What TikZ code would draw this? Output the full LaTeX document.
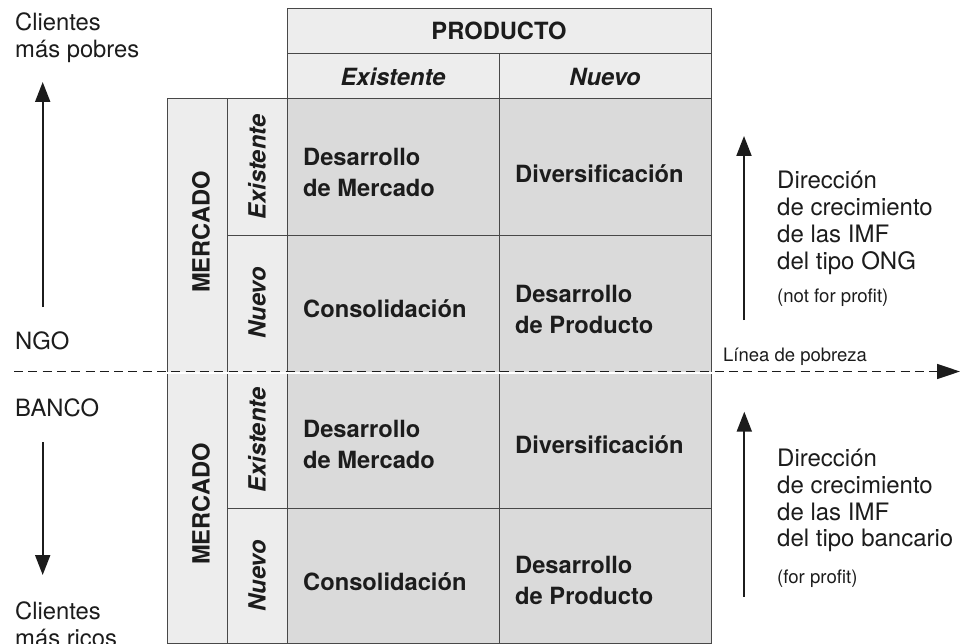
\documentclass[tikz,border=0pt]{standalone}
\usepackage{fontspec}
\setmainfont{TeX Gyre Heros}
\usetikzlibrary{arrows.meta}
\definecolor{gridc}{RGB}{72,72,72}
\definecolor{hdrfill}{RGB}{237,237,237}
\definecolor{cellfill}{RGB}{218,218,218}
\definecolor{ink}{RGB}{28,28,28}
\begin{document}
\begin{tikzpicture}[x=1pt,y=-1pt,
  box/.style={draw=gridc, line width=1.4pt, inner sep=0pt, anchor=north west},
  hbox/.style={box, fill=hdrfill},
  cbox/.style={box, fill=cellfill},
  boldtxt/.style={font=\fontsize{23.7}{31}\selectfont\bfseries, text=ink, inner sep=0pt, align=left},
  bitxt/.style={font=\fontsize{23.7}{31}\selectfont\bfseries\itshape, text=ink, inner sep=0pt},
  regtxt/.style={font=\fontsize{23.8}{27}\selectfont, text=ink, inner sep=0pt, align=left},
  righttxt/.style={font=\fontsize{24}{26.7}\selectfont, text=ink, inner sep=0pt, align=left},
  smalltxt/.style={font=\fontsize{18.6}{22}\selectfont, text=ink, inner sep=0pt},
  linetxt/.style={font=\fontsize{18.5}{22}\selectfont, text=ink, inner sep=0pt},
  arr/.style={draw=ink, line width=2pt, -{Triangle[length=20pt,width=15pt]}},
  dline/.style={draw=ink, line width=1.5pt, dash pattern=on 9pt off 5.3pt, -{Triangle[length=23pt,width=15pt]}}
]
\useasboundingbox (0,0) rectangle (971,644);

% header
\node[hbox, minimum width=424pt, minimum height=45pt] (prod) at (287,8) {};
\node[hbox, minimum width=212pt, minimum height=45pt] (hex) at (287,53) {};
\node[hbox, minimum width=212pt, minimum height=45pt] (hnu) at (499,53) {};
% left columns
\node[hbox, minimum width=60pt, minimum height=273.5pt] (mk1) at (167,98) {};
\node[hbox, minimum width=60pt, minimum height=271.5pt] (mk2) at (167,371.5) {};
\node[hbox, minimum width=60pt, minimum height=137pt] (ex1) at (227,98) {};
\node[hbox, minimum width=60pt, minimum height=136.5pt] (nu1) at (227,235) {};
\node[hbox, minimum width=60pt, minimum height=136.5pt] (ex2) at (227,371.5) {};
\node[hbox, minimum width=60pt, minimum height=135pt] (nu2) at (227,508) {};
% cells
\node[cbox, minimum width=212pt, minimum height=137pt] (c11) at (287,98) {};
\node[cbox, minimum width=212pt, minimum height=137pt] (c12) at (499,98) {};
\node[cbox, minimum width=212pt, minimum height=136.5pt] (c21) at (287,235) {};
\node[cbox, minimum width=212pt, minimum height=136.5pt] (c22) at (499,235) {};
\node[cbox, minimum width=212pt, minimum height=136.5pt] (c31) at (287,371.5) {};
\node[cbox, minimum width=212pt, minimum height=136.5pt] (c32) at (499,371.5) {};
\node[cbox, minimum width=212pt, minimum height=135pt] (c41) at (287,508) {};
\node[cbox, minimum width=212pt, minimum height=135pt] (c42) at (499,508) {};

% header texts
\node[boldtxt] (tprod) at (499,31) {PRODUCTO};
\node[bitxt] (thex) at (393,76.5) {Existente};
\node[bitxt] (thnu) at (605,76.5) {Nuevo};

% rotated texts
\node[boldtxt, rotate=90] (tm1) at (201,232) {MERCADO};
\node[bitxt, rotate=90] (tex1) at (257,167) {Existente};
\node[bitxt, rotate=90] (tnu1) at (257,303) {Nuevo};
\node[boldtxt, rotate=90] (tm2) at (201,504) {MERCADO};
\node[bitxt, rotate=90] (tex2) at (257,440) {Existente};
\node[bitxt, rotate=90] (tnu2) at (257,576) {Nuevo};

% cell texts
\node[boldtxt, anchor=west] (t11) at (303,172.8) {Desarrollo\\de Mercado};
\node[boldtxt, anchor=west] (t12) at (515,173.3) {Diversificación};
\node[boldtxt, anchor=west] (t21) at (303,308.6) {Consolidación};
\node[boldtxt, anchor=west] (t22) at (515,309.1) {Desarrollo\\de Producto};
\node[boldtxt, anchor=west] (t31) at (303,444.4) {Desarrollo\\de Mercado};
\node[boldtxt, anchor=west] (t32) at (515,445) {Diversificación};
\node[boldtxt, anchor=west] (t41) at (303,581.6) {Consolidación};
\node[boldtxt, anchor=west] (t42) at (515,580.8) {Desarrollo\\de Producto};

% poverty line
\coordinate (ls) at (14,371.5);
\coordinate (le) at (960,371.5);
\draw[white, line width=1.8pt] (mk1.south west) -- (c22.south east);
\draw[dline] (ls) -- (le);
\node[linetxt, anchor=west] (tlp) at (723,356.8) {Línea de pobreza};

% left texts and arrows
\node[regtxt, anchor=west] (tcp) at (15,37.5) {Clientes\\más pobres};
\node[regtxt, anchor=west] (tngo) at (15,341) {NGO};
\node[regtxt, anchor=west] (tban) at (15,408.3) {BANCO};
\node[regtxt, anchor=west] (tcr) at (15,624) {Clientes\\más ricos};
\coordinate (la1) at (42.7,307);
\coordinate (la2) at (42.7,82);
\coordinate (lb1) at (42.7,442);
\coordinate (lb2) at (42.7,575);
\draw[arr] (la1) -- (la2);
\draw[arr] (lb1) -- (lb2);

% right texts and arrows
\coordinate (ra1) at (744,320);
\coordinate (ra2) at (744,136);
\coordinate (rb1) at (744.3,596.7);
\coordinate (rb2) at (744.3,411.7);
\draw[arr] (ra1) -- (ra2);
\draw[arr] (rb1) -- (rb2);
\node[righttxt, anchor=west] (tr1) at (777,222.9) {Dirección\\de crecimiento\\de las IMF\\del tipo ONG};
\node[smalltxt, anchor=west] (tr1s) at (777,297.5) {(not for profit)};
\node[righttxt, anchor=west] (tr2) at (777,500.8) {Dirección\\de crecimiento\\de las IMF\\del tipo bancario};
\node[smalltxt, anchor=west] (tr2s) at (777,578.3) {(for profit)};
\end{tikzpicture}
\end{document}
